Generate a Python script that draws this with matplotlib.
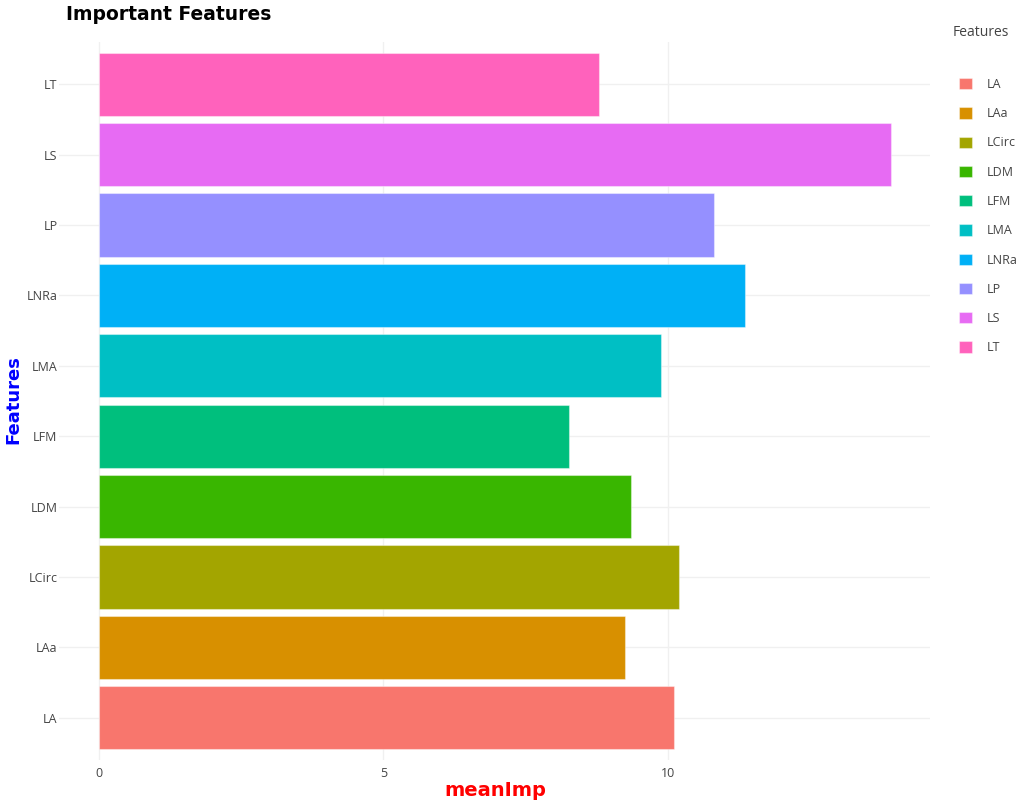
import matplotlib.pyplot as plt

# Данные графика
features = ["LA", "LAa", "LCirc", "LDM", "LFM", "LMA", "LNRa", "LP", "LS", "LT"]
mean_imp = [10.10, 9.24, 10.19, 9.35, 8.26, 9.87, 11.36, 10.80, 13.91, 8.79]
colors = ["#F8766D", "#D89000", "#A3A500", "#39B600", "#00BF7D",
          "#00BFC4", "#00B0F6", "#9590FF", "#E76BF3", "#FF62BC"]

W, H = 1031, 802
fig = plt.figure(figsize=(W / 100, H / 100), dpi=100)
ax = fig.add_axes([59 / W, 1 - 760 / H, (930 - 59) / W, (760 - 42) / H])

for i, (name, val, col) in enumerate(zip(features, mean_imp, colors)):
    ax.barh(i, val, height=0.9, color=col, label=name,
            edgecolor=(1, 1, 1, 0.4), linewidth=0.8, zorder=2)

ax.set_xlim(-0.695, 14.6)
ax.set_ylim(-0.6, len(features) - 0.4)
ax.set_yticks(range(len(features)))
ax.set_yticklabels(features)
ax.set_xticks([0, 5, 10])

for s in ax.spines.values():
    s.set_visible(False)
ax.grid(True, color="#f0f0f0", linewidth=1, zorder=0)
ax.set_axisbelow(True)
ax.tick_params(length=0, labelsize=9, labelcolor="#444444")
ax.tick_params(axis="y", pad=1)
ax.tick_params(axis="x", pad=5)
for lbl in ax.get_xticklabels() + ax.get_yticklabels():
    lbl.set_family("Open Sans")

fig.text(66 / W, 1 - 14 / H, "Important Features", fontsize=13.5,
         fontweight="bold", color="black", va="center", ha="left")
fig.text(495 / W, 1 - 791 / H, "meanImp", fontsize=14, fontweight="bold",
         color="red", ha="center", va="center")
fig.text(13 / W, 1 - 400 / H, "Features", fontsize=13, fontweight="bold",
         color="blue", ha="center", va="center", rotation=90)

# Легенда
fig.text(981 / W, 1 - 32 / H, "Features", fontsize=10, family="Open Sans",
         color="#444444", ha="center", va="center")
leg = fig.legend(loc="upper left", bbox_to_anchor=(959 / W, 1 - 78 / H),
                 frameon=False, borderpad=0, borderaxespad=0,
                 handlelength=1.0, handleheight=1.0, handletextpad=1.2,
                 labelspacing=1.3, prop={"family": "Open Sans", "size": 9})
for t in leg.get_texts():
    t.set_color("#444444")

fig.savefig("out.png", dpi=100)
